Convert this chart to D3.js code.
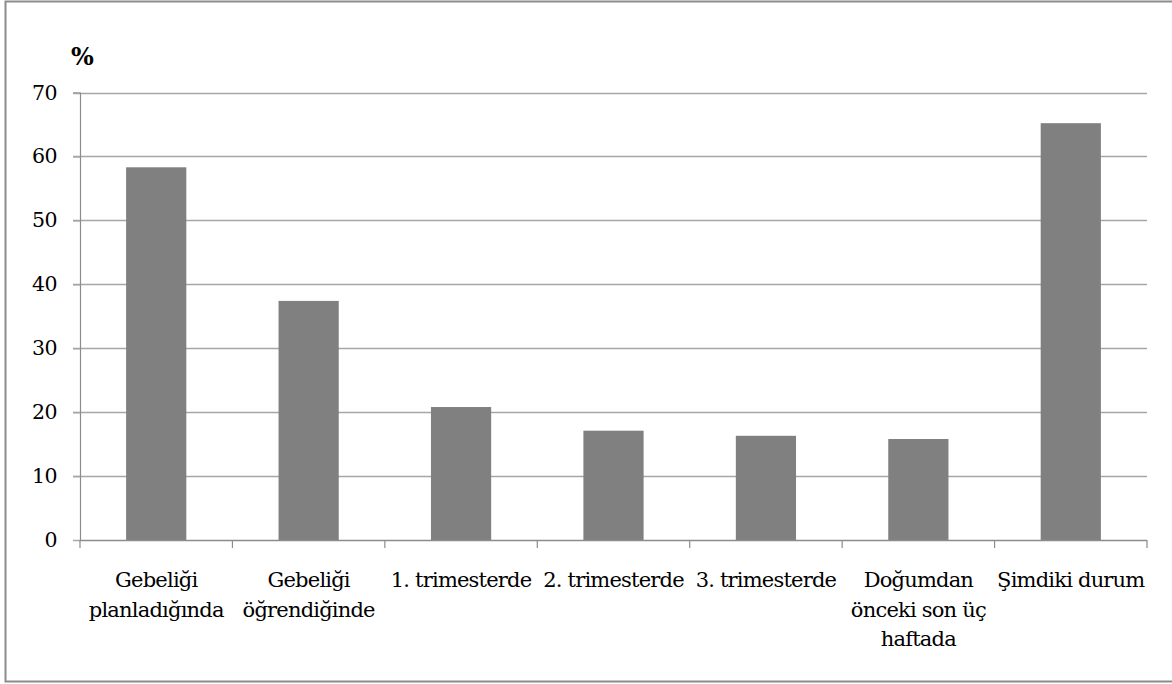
<!DOCTYPE html>
<html>
<head>
<meta charset="utf-8">
<script src="https://cdn.jsdelivr.net/npm/d3@7"></script>
<style>
  html, body { margin: 0; padding: 0; background: #fff; }
  svg { display: block; }
</style>
</head>
<body>
<svg id="chart" width="1172" height="684"></svg>
<script>
// Periods (label lines split where the axis wraps them)
const categories = [
  ["Gebeliği", "planladığında"],
  ["Gebeliği", "öğrendiğinde"],
  ["1. trimesterde"],
  ["2. trimesterde"],
  ["3. trimesterde"],
  ["Doğumdan", "önceki son üç", "haftada"],
  ["Şimdiki durum"]
];
// Percentage per period
const values = [58.3, 37.4, 20.8, 17.1, 16.3, 15.8, 65.2];
const yTicks = [0, 10, 20, 30, 40, 50, 60, 70];
const yUnit = "%";

const FONT = "DejaVu Serif";
const svg = d3.select("#chart");
const W = 1172, H = 684;

// outer frame
svg.append("rect")
  .attr("x", 5.5).attr("y", 1.5)
  .attr("width", W + 10).attr("height", 680)
  .attr("fill", "none").attr("stroke", "#8c8c8c").attr("stroke-width", 2);

const plot = { left: 80, right: 1147, top: 92.5, bottom: 540 };
const keys = categories.map((c, i) => i);

const x = d3.scaleBand().domain(keys).range([plot.left, plot.right]).paddingInner(0).paddingOuter(0);
const y = d3.scaleLinear().domain([0, 70]).range([plot.bottom, plot.top]);

// horizontal gridlines with left ticks
svg.append("g")
  .selectAll("line")
  .data(yTicks.filter(t => t > 0))
  .join("line")
  .attr("x1", plot.left - 7).attr("x2", plot.right)
  .attr("y1", d => Math.round(y(d)) + 0.5).attr("y2", d => Math.round(y(d)) + 0.5)
  .attr("stroke", "#a6a6a6").attr("stroke-width", 1.5);

// bars
const barW = x.bandwidth() * 0.395;
svg.append("g")
  .selectAll("rect")
  .data(values)
  .join("rect")
  .attr("x", (d, i) => x(i) + (x.bandwidth() - barW) / 2)
  .attr("y", d => y(d))
  .attr("width", barW)
  .attr("height", d => y(0) - y(d))
  .attr("fill", "#808080");

// y axis
const yAxis = d3.axisLeft(y).tickValues(yTicks).tickSize(7).tickPadding(16).tickFormat(d3.format("d"));
const gy = svg.append("g").attr("transform", `translate(${plot.left},0)`).call(yAxis)
  .attr("font-family", FONT).attr("font-size", 20.5);
gy.select(".domain").attr("stroke", "#8c8c8c").attr("stroke-width", 1.2);
gy.selectAll(".tick line").attr("stroke", "#a6a6a6").attr("stroke-width", 1.5);
gy.selectAll(".tick text").attr("fill", "#000").attr("letter-spacing", -0.5);

// x axis: boundaries between categories carry tick marks
const gx = svg.append("g").attr("transform", `translate(0,${plot.bottom})`)
  .attr("font-family", FONT).attr("font-size", 21);
gx.append("line")
  .attr("x1", plot.left).attr("x2", plot.right)
  .attr("y1", 0.5).attr("y2", 0.5)
  .attr("stroke", "#8c8c8c").attr("stroke-width", 1.5);
const bounds = keys.map(k => x(k)).concat([plot.right]);
gx.selectAll("line.tk")
  .data(bounds)
  .join("line")
  .attr("class", "tk")
  .attr("x1", d => d).attr("x2", d => d)
  .attr("y1", 0).attr("y2", 8)
  .attr("stroke", "#8c8c8c").attr("stroke-width", 1.2);

// category labels
const lab = gx.selectAll("text.cat")
  .data(categories)
  .join("text")
  .attr("class", "cat")
  .attr("text-anchor", "middle")
  .attr("letter-spacing", -0.8)
  .attr("fill", "#000")
  .attr("transform", (d, i) => `translate(${x(i) + x.bandwidth() / 2},47)`);
lab.selectAll("tspan")
  .data(d => d)
  .join("tspan")
  .attr("x", 0)
  .attr("y", (d, j) => j * 29.5)
  .text(d => d);

// unit label
svg.append("text")
  .attr("x", 71).attr("y", 65)
  .attr("font-family", FONT)
  .attr("font-size", 24).attr("font-weight", "bold")
  .attr("letter-spacing", -0.5)
  .attr("fill", "#000")
  .text(yUnit);
</script>
</body>
</html>
